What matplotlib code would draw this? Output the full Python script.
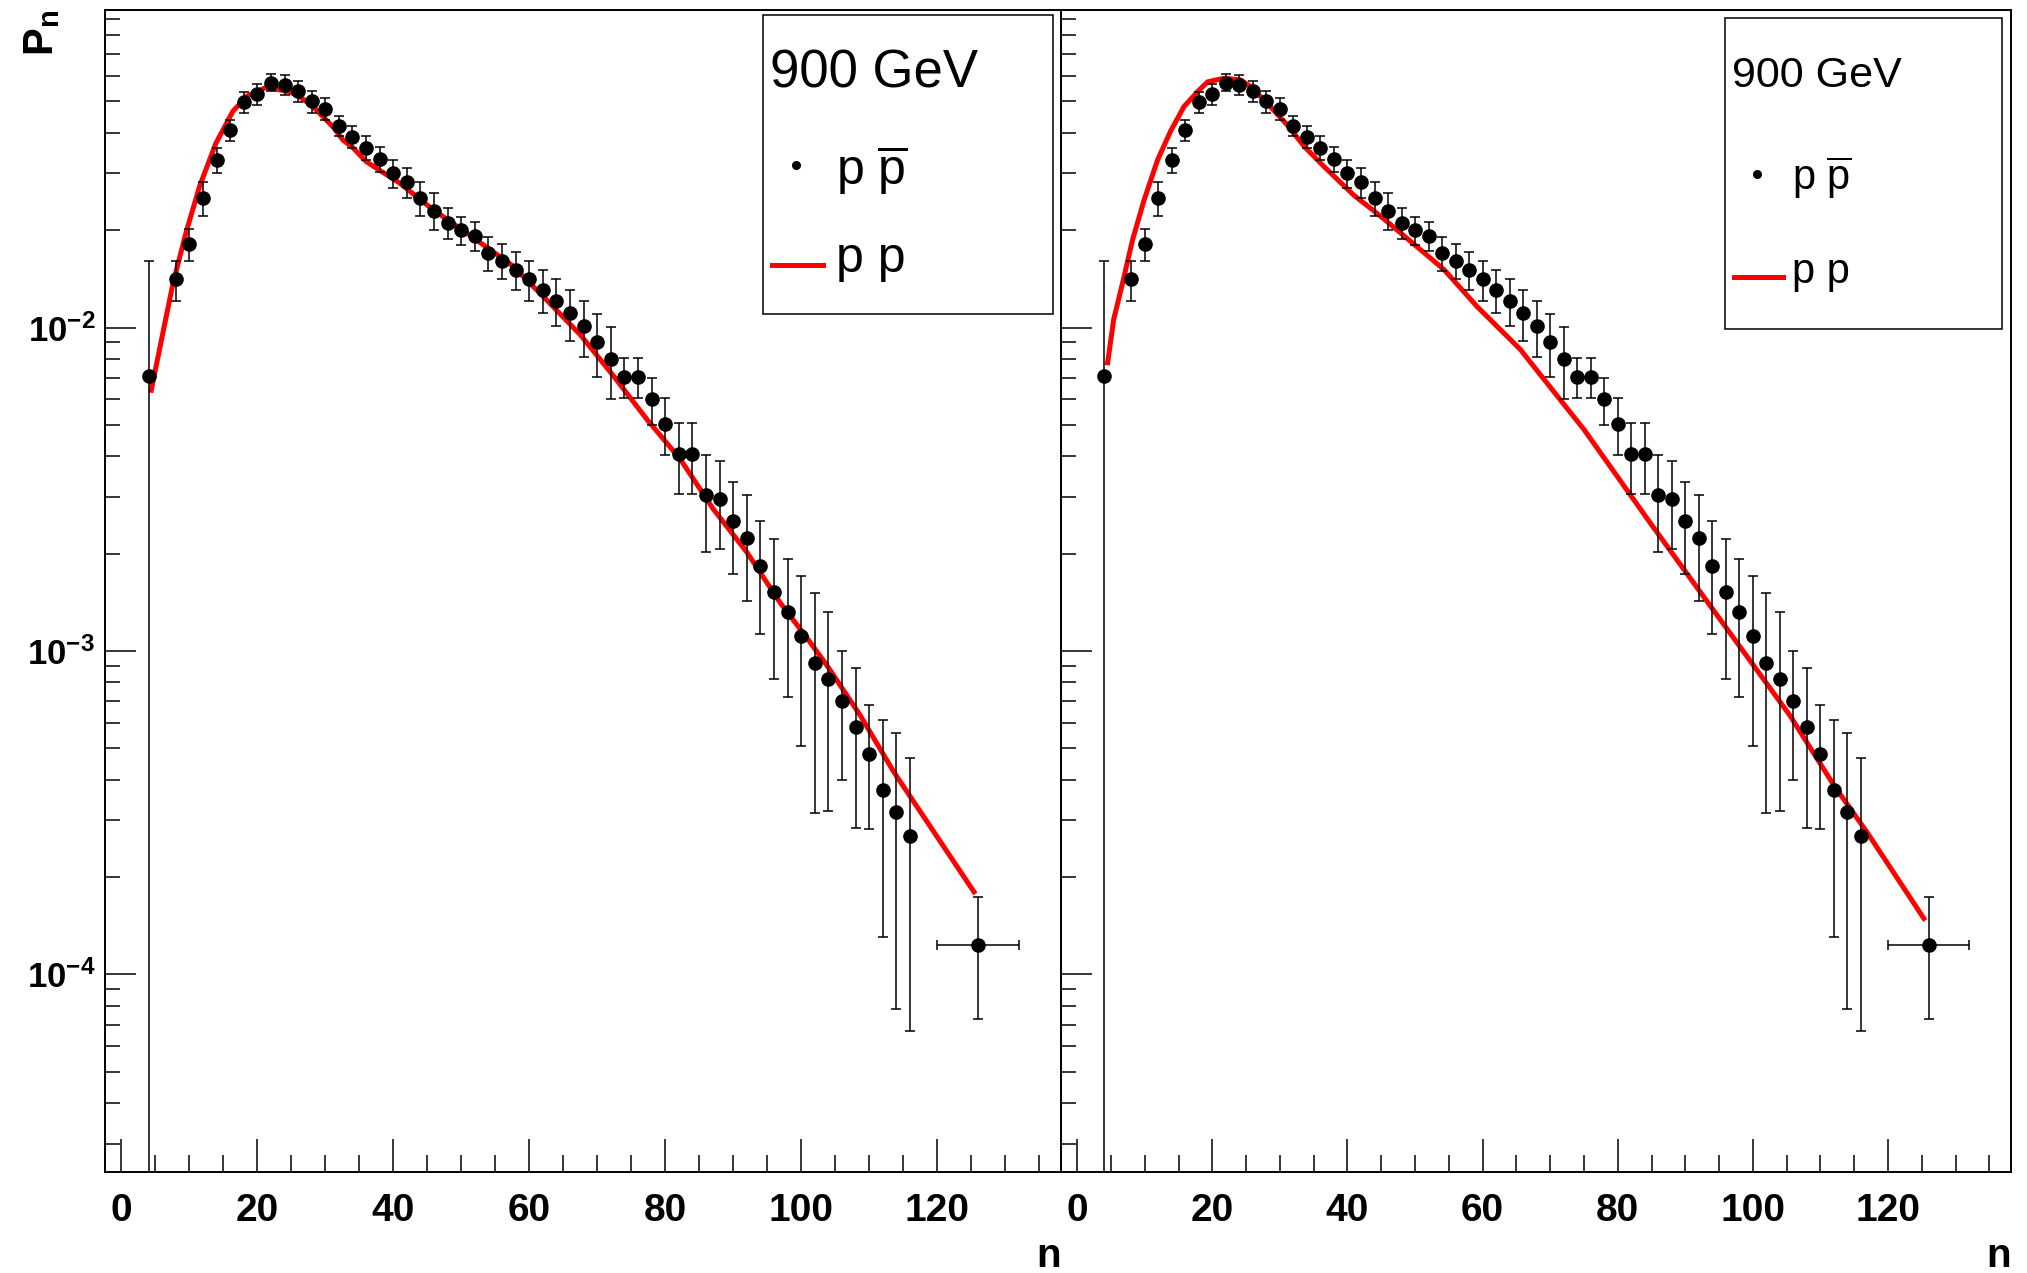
import numpy as np
import matplotlib
matplotlib.use('Agg')
import matplotlib.pyplot as plt
from matplotlib.ticker import FixedLocator, MultipleLocator, LogLocator, NullFormatter
from matplotlib.patches import Rectangle
from matplotlib.lines import Line2D

plt.rcParams['font.family'] = ['Liberation Sans', 'DejaVu Sans']
plt.rcParams['mathtext.fontset'] = 'custom'
plt.rcParams['mathtext.rm'] = 'Liberation Sans'
plt.rcParams['mathtext.it'] = 'Liberation Sans:italic'
plt.rcParams['mathtext.bf'] = 'Liberation Sans:bold'

# p pbar multiplicity data (same points in both panels)
n = np.array([4, 8, 10, 12, 14, 16, 18, 20, 22, 24, 26, 28, 30, 32, 34, 36, 38, 40,
              42, 44, 46, 48, 50, 52, 54, 56, 58, 60, 62, 64, 66, 68, 70, 72, 74, 76,
              78, 80, 82, 84, 86, 88, 90, 92, 94, 96, 98, 100, 102, 104, 106, 108,
              110, 112, 114, 116, 126])
Pn = np.array([0.00706, 0.0141, 0.0181, 0.0251, 0.0330, 0.0408, 0.0498, 0.0527,
               0.0572, 0.0562, 0.0539, 0.0500, 0.0475, 0.0420, 0.0389, 0.0360,
               0.0332, 0.0300, 0.0281, 0.0251, 0.0230, 0.0211, 0.0200, 0.0192,
               0.0170, 0.0161, 0.0151, 0.0141, 0.0131, 0.0121, 0.0111, 0.0101,
               0.00904, 0.00802, 0.00705, 0.00705, 0.00600, 0.00505, 0.00406,
               0.00406, 0.00303, 0.00296, 0.00253, 0.00223, 0.00183, 0.00152,
               0.00132, 0.00111, 0.000916, 0.000820, 0.000698, 0.000583, 0.000481,
               0.000371, 0.000318, 0.000267, 0.000123])
Pn_err = np.array([0.009, 0.002, 0.002, 0.003, 0.003, 0.003, 0.0038, 0.004, 0.0035,
                   0.004, 0.004, 0.0038, 0.0038, 0.003, 0.003, 0.003, 0.003, 0.003,
                   0.003, 0.003, 0.003, 0.0023, 0.002, 0.002, 0.002, 0.002, 0.002,
                   0.002, 0.002, 0.002, 0.002, 0.002, 0.002, 0.002, 0.001, 0.001,
                   0.001, 0.001, 0.001, 0.001, 0.001, 0.0009, 0.0008, 0.0008, 0.0007,
                   0.0007, 0.0006, 0.0006, 0.0006, 0.0005, 0.0003, 0.0003, 0.0002,
                   0.00024, 0.00024, 0.0002, 0.00005])
n_err = np.zeros(len(n))
n_err[-1] = 6

# p p curves
n_pp1 = np.array([4.4, 6.1, 7.6, 9.5, 11.5, 13.9, 16.4, 18.4, 21.3, 24.7, 26.2, 28.2,
                  31.1, 32.6, 34.1, 36.0, 40.9, 45.9, 50.8, 57.6, 62.5, 67.5, 72.4,
                  77.3, 82.2, 87.1, 92.0, 96.9, 100.8, 103.8, 108.7, 113.6, 125.4])
P_pp1 = np.array([0.0064, 0.0096, 0.0137, 0.0196, 0.0273, 0.0371, 0.0466, 0.0518,
                  0.0553, 0.0536, 0.0518, 0.0482, 0.0418, 0.0380, 0.0359, 0.0326,
                  0.0280, 0.0231, 0.0196, 0.0155, 0.0122, 0.0095, 0.00708, 0.0052,
                  0.00392, 0.00274, 0.00202, 0.00141, 0.00110, 0.000901, 0.000631,
                  0.000423, 0.000180])
n_pp2 = np.array([4.5, 5.4, 6.7, 8.2, 9.9, 11.9, 13.8, 15.8, 17.8, 19.3, 21.7, 24.2,
                  25.7, 28.1, 31.1, 33.6, 36.5, 40.9, 44.9, 49.3, 54.3, 59.2, 65.6,
                  67.1, 73.0, 75.0, 84.8, 94.7, 105.5, 112.0, 116.9, 125.3])
P_pp2 = np.array([0.00778, 0.0106, 0.0137, 0.0187, 0.0248, 0.0330, 0.0404, 0.0482,
                  0.0536, 0.0575, 0.0590, 0.0583, 0.0555, 0.0494, 0.0423, 0.0363,
                  0.0315, 0.0257, 0.0221, 0.0185, 0.0151, 0.0116, 0.00855, 0.0078,
                  0.00546, 0.00484, 0.00249, 0.00129, 0.000631, 0.000384, 0.000275,
                  0.000149])

title = '900 GeV'
lab_data = r'p $\overline{\mathrm{p}}$'
lab_model = 'p p'

W, H = 2027, 1273
fig = plt.figure(figsize=(W / 100, H / 100), dpi=100)
ax1 = fig.add_axes([105 / W, 1 - 1172 / H, 956 / W, 1162 / H])
ax2 = fig.add_axes([1061 / W, 1 - 1172 / H, 950 / W, 1162 / H])


def px(ax, x, y):
    # image pixel -> axes fraction
    b = ax.get_position()
    return ((x / W - b.x0) / b.width, ((1 - y / H) - b.y0) / b.height)


def root_legend(ax, box, tx, ty, mk, ln, ex, ey1, ey2, tsize, esize):
    x0, y0 = px(ax, box[0], box[3])
    x1, y1 = px(ax, box[2], box[1])
    ax.add_patch(Rectangle((x0, y0), x1 - x0, y1 - y0, transform=ax.transAxes,
                           fill=False, edgecolor='black', linewidth=1.1, zorder=5))
    ax.text(*px(ax, tx, ty), title, transform=ax.transAxes, fontsize=tsize,
            ha='left', va='baseline')
    ax.add_line(Line2D([px(ax, *mk)[0]], [px(ax, *mk)[1]], transform=ax.transAxes,
                       marker='o', ms=5.5, color='black', linestyle='none'))
    ax.add_line(Line2D([px(ax, ln[0], ln[2])[0], px(ax, ln[1], ln[2])[0]],
                       [px(ax, ln[0], ln[2])[1]] * 2, transform=ax.transAxes,
                       color='red', linewidth=3.6))
    ax.text(*px(ax, ex, ey1), lab_data, transform=ax.transAxes, fontsize=esize,
            ha='left', va='baseline')
    ax.text(*px(ax, ex, ey2), lab_model, transform=ax.transAxes, fontsize=esize,
            ha='left', va='baseline')


for ax, n_pp, P_pp in [(ax1, n_pp1, P_pp1), (ax2, n_pp2, P_pp2)]:
    ax.set_yscale('log')
    ax.plot(n_pp, P_pp, color='red', linewidth=3.6, zorder=3)
    ax.errorbar(n[:-1], Pn[:-1], yerr=Pn_err[:-1], fmt='o', color='black', ms=9.5,
                elinewidth=1.1, capsize=3.3, capthick=1.1, zorder=4)
    ax.errorbar(n[-1:], Pn[-1:], yerr=Pn_err[-1:], xerr=n_err[-1:], fmt='o',
                color='black', ms=9.5, elinewidth=1.1, capsize=3.3, capthick=1.1,
                zorder=4)
    ax.set_xlim(-2.4, 138.2)
    ax.set_ylim(2.45e-5, 0.0959)
    ax.yaxis.set_major_locator(FixedLocator([1e-4, 1e-3, 1e-2]))
    ax.yaxis.set_minor_locator(LogLocator(base=10, subs=np.arange(2, 10)))
    ax.yaxis.set_minor_formatter(NullFormatter())
    ax.set_xticks([0, 20, 40, 60, 80, 100, 120])
    ax.set_xticklabels(['0', '20', '40', '60', '80', '100', '120'],
                       fontweight='bold', fontsize=28)
    ax.xaxis.set_minor_locator(MultipleLocator(5))
    ax.tick_params(which='both', direction='in', top=False, right=False, width=1.1)
    ax.tick_params(axis='y', which='major', length=22)
    ax.tick_params(axis='y', which='minor', length=11)
    ax.tick_params(axis='x', which='major', length=24, pad=15)
    ax.tick_params(axis='x', which='minor', length=12)
    for s in ax.spines.values():
        s.set_linewidth(1.4)
    ax.set_xlabel('n', loc='right', fontweight='bold', fontsize=29)
    ax.xaxis.set_label_coords(1.0, -0.0818)
    ax.xaxis.label.set_va('baseline')

ax1.set_yticklabels([r'$\mathbf{10^{-4}}$', r'$\mathbf{10^{-3}}$', r'$\mathbf{10^{-2}}$'],
                    fontsize=25)
ax1.tick_params(axis='y', which='major', pad=7)
ax2.tick_params(axis='y', which='both', labelleft=False)
ax1.set_ylabel(r'$\mathbf{P_n}$', loc='top', fontsize=30)
ax1.yaxis.set_label_coords(-0.045, 1.0)

root_legend(ax1, (763, 15, 1053, 314), 770, 88, (796, 165), (772, 823, 265),
            836, 185, 272, 38, 36)
root_legend(ax2, (1725, 18, 2002, 329), 1732, 87, (1757, 174), (1734, 1783, 277),
            1792, 190, 283, 31, 30)

fig.savefig('out.png', dpi=100)
